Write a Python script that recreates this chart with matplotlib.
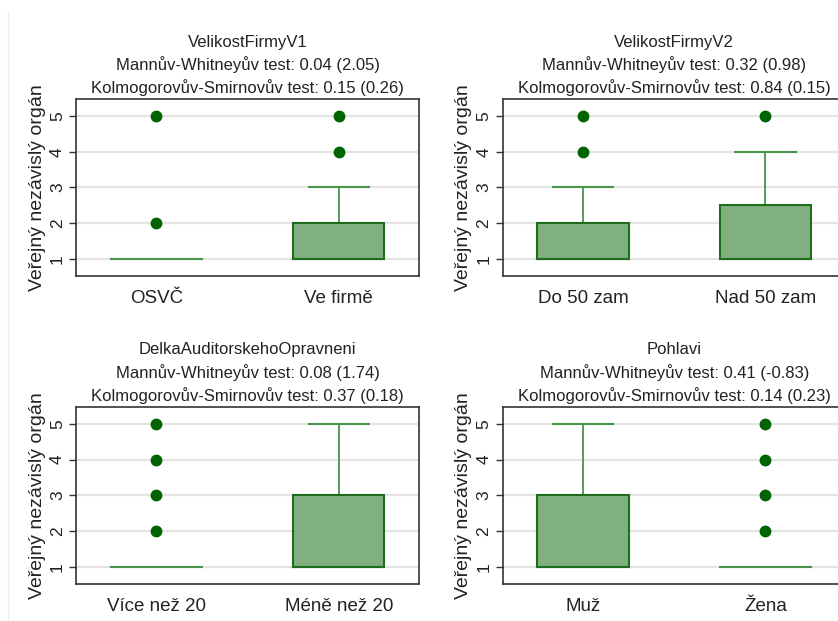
import matplotlib
matplotlib.use("Agg")
import matplotlib.pyplot as plt
from matplotlib.lines import Line2D

plt.rcParams['font.family'] = ['Liberation Sans', 'DejaVu Sans']

ylabel = "Veřejný nezávislý orgán"
yticks = [1, 2, 3, 4, 5]

titles = ["VelikostFirmyV1", "VelikostFirmyV2", "DelkaAuditorskehoOpravneni", "Pohlavi"]
mw_tests = ["0.04 (2.05)", "0.32 (0.98)", "0.08 (1.74)", "0.41 (-0.83)"]
ks_tests = ["0.15 (0.26)", "0.84 (0.15)", "0.37 (0.18)", "0.14 (0.23)"]

group_labels = [["OSVČ", "Ve firmě"], ["Do 50 zam", "Nad 50 zam"],
                ["Více než 20", "Méně než 20"], ["Muž", "Žena"]]
# per panel: (q1, median, q3, whisker_low, whisker_high)
q1 = [[1, 1], [1, 1], [1, 1], [1, 1]]
med = [[1, 1], [1, 1], [1, 1], [1, 1]]
q3 = [[1, 2], [2, 2.5], [1, 3], [3, 1]]
wlo = [[1, 1], [1, 1], [1, 1], [1, 1]]
whi = [[1, 3], [3, 4], [1, 5], [5, 1]]
outliers = [[[2, 5], [4, 5]], [[4, 5], [5]], [[2, 3, 4, 5], []], [[], [2, 3, 4, 5]]]

W, H = 838, 621
fig = plt.figure(figsize=(W / 100, H / 100), dpi=100)

positions_px = [(76, 99, 343, 177), (502.7, 99, 343, 177),
                (76, 406.7, 343, 177.3), (502.7, 406.7, 343, 177.3)]

fill_c = '#80b080'
edge_c = '#1e6e1e'
whisk_c = '#4a944a'
dot_c = '#006400'
txt_c = '#222222'

for i in range(4):
    l, t, w, h = positions_px[i]
    ax = fig.add_axes([l / W, 1 - (t + h) / H, w / W, h / H])
    ax.set_ylim(0.525, 5.475)
    ax.set_xlim(-0.44, 1.44)
    for y in yticks:
        ax.axhline(y, color='#e4e4e4', lw=1.6, zorder=0)
    for j in range(2):
        bw = 0.5
        if q3[i][j] > q1[i][j]:
            ax.add_patch(plt.Rectangle((j - bw / 2, q1[i][j]), bw, q3[i][j] - q1[i][j],
                                       facecolor=fill_c, edgecolor=edge_c, lw=1.5, zorder=3))
            ax.plot([j - bw / 2, j + bw / 2], [med[i][j], med[i][j]], color=edge_c, lw=1.5, zorder=4)
        else:
            ax.plot([j - bw / 2, j + bw / 2], [q1[i][j], q1[i][j]], color=whisk_c, lw=1.5, zorder=3)
        if whi[i][j] > q3[i][j]:
            ax.plot([j, j], [q3[i][j], whi[i][j]], color=whisk_c, lw=1.3, zorder=2)
            ax.plot([j - 0.165, j + 0.165], [whi[i][j], whi[i][j]], color=whisk_c, lw=1.5, zorder=2)
        if wlo[i][j] < q1[i][j]:
            ax.plot([j, j], [wlo[i][j], q1[i][j]], color=whisk_c, lw=1.3, zorder=2)
        if outliers[i][j]:
            ax.plot([j] * len(outliers[i][j]), outliers[i][j], 'o', color=dot_c,
                    markersize=7.5, zorder=5)
    ax.set_yticks(yticks)
    ax.set_yticklabels([str(y) for y in yticks], rotation=90, va='center', fontsize=12.5,
                       color=txt_c)
    ax.set_xticks([0, 1])
    ax.set_xticklabels(group_labels[i], fontsize=13.5, color=txt_c)
    ax.tick_params(axis='x', length=0, pad=10)
    ax.tick_params(axis='y', length=5, width=1, color='#333333', pad=3)
    for s in ax.spines.values():
        s.set_color('#333333')
        s.set_linewidth(1.2)
    ax.set_ylabel(ylabel, fontsize=14, labelpad=3, color=txt_c)
    ax.text(0.5, 1.0 + 57 / h, titles[i], transform=ax.transAxes, ha='center',
            va='center', fontsize=12, color=txt_c)
    ax.text(0.5, 1.0 + 34 / h, "Mannův-Whitneyův test: " + mw_tests[i], transform=ax.transAxes,
            ha='center', va='center', fontsize=12, color=txt_c)
    ax.text(0.5, 1.0 + 11.5 / h, "Kolmogorovův-Smirnovův test: " + ks_tests[i],
            transform=ax.transAxes, ha='center', va='center', fontsize=12, color=txt_c)

fig.add_artist(Line2D([7.5 / W, 7.5 / W], [0, 1 - 12 / H], transform=fig.transFigure,
                      color='#e8eef2', lw=1))

fig.savefig('out.png', dpi=100)
